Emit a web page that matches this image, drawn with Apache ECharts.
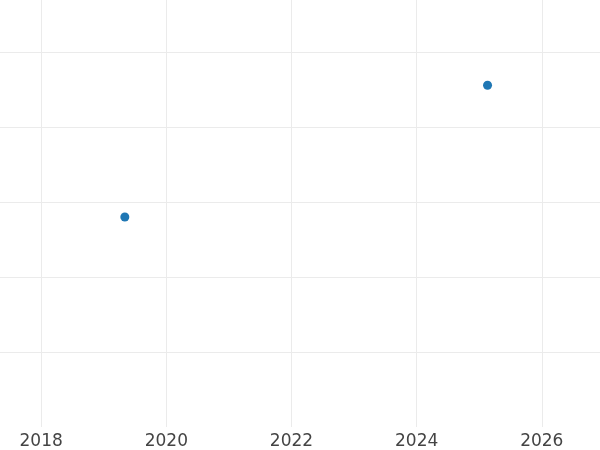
<!DOCTYPE html>
<html><head><meta charset="utf-8">
<script src="https://cdn.jsdelivr.net/npm/echarts@6/dist/echarts.min.js"></script>
<style>html,body{margin:0;padding:0;background:#fff;overflow:hidden}#wrap{width:600px;height:450px;overflow:hidden;position:relative}#c{position:absolute;left:-84px;top:0;width:684px;height:450px}</style>
</head><body><div id="wrap"><div id="c"></div></div>
<script>
const years = [2019.337, 2025.133];
const values = [2.8, 4.556];
const xTicks = [2016, 2018, 2020, 2022, 2024, 2026];

const chart = echarts.init(document.getElementById('c'), null, {renderer: 'canvas'});
chart.setOption({
  animation: false,
  backgroundColor: '#ffffff',
  grid: {left: 0, right: 0, top: 0, bottom: 23, containLabel: false, outerBoundsMode: 'none'},
  xAxis: {
    type: 'value', min: xTicks[0], max: 2026.93, interval: 2,
    axisLine: {show: false}, axisTick: {show: false},
    axisLabel: {color: '#444', fontFamily: 'DejaVu Sans', fontSize: 17, margin: 6,
      formatter: v => String(Math.round(v)), showMaxLabel: false},
    splitLine: {show: true, showMinLine: false, showMaxLine: false, lineStyle: {color: '#ebebeb', width: 1}}
  },
  yAxis: {
    type: 'value', min: 0, max: 5.693, interval: 1,
    axisLine: {show: false}, axisTick: {show: false}, axisLabel: {show: false},
    splitLine: {show: true, showMinLine: false, showMaxLine: false, lineStyle: {color: '#ebebeb', width: 1}}
  },
  series: [{
    type: 'scatter', symbolSize: 9,
    itemStyle: {color: '#1f77b4', opacity: 1},
    data: years.map((y, i) => [y, values[i]])
  }]
});
</script></body></html>
